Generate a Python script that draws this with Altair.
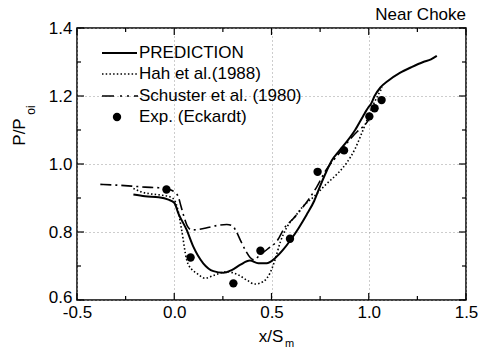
import altair as alt
import pandas as pd

# ---------------- data ----------------
pred_x = [-0.21, -0.15, -0.08, -0.03, 0.0, 0.021, 0.064, 0.098, 0.149, 0.201, 0.252, 0.295,
          0.338, 0.389, 0.432, 0.475, 0.518, 0.56, 0.60, 0.64, 0.68, 0.72, 0.75, 0.78, 0.81,
          0.85, 0.89, 0.93, 0.97, 1.00, 1.01, 1.03, 1.06, 1.10, 1.16, 1.22, 1.28, 1.32, 1.35]
pred_y = [0.910, 0.905, 0.902, 0.895, 0.886, 0.855, 0.806, 0.757, 0.708, 0.685, 0.680, 0.688,
          0.703, 0.716, 0.708, 0.708, 0.723, 0.748, 0.778, 0.812, 0.850, 0.892, 0.935, 0.975, 1.010,
          1.040, 1.068, 1.100, 1.140, 1.168, 1.175, 1.200, 1.225, 1.245, 1.268, 1.285, 1.300, 1.308, 1.318]

hah_x = [-0.21, -0.17, -0.12, -0.06, -0.02, 0.0, 0.02, 0.038, 0.064, 0.09, 0.115, 0.158, 0.21,
         0.27, 0.329, 0.372, 0.415, 0.458, 0.492, 0.518, 0.545, 0.58, 0.62, 0.66, 0.72, 0.78,
         0.84, 0.886, 0.93, 0.96, 0.99, 1.02, 1.05, 1.07]
hah_y = [0.928, 0.918, 0.912, 0.908, 0.903, 0.895, 0.862, 0.806, 0.718, 0.690, 0.679, 0.664, 0.674,
         0.683, 0.674, 0.659, 0.647, 0.654, 0.679, 0.718, 0.770, 0.815, 0.845, 0.874, 0.905, 0.940,
         0.972, 1.003, 1.045, 1.085, 1.128, 1.170, 1.205, 1.225]

sch_x = [-0.38, -0.30, -0.22, -0.15, -0.08, -0.03, 0.0, 0.02, 0.035, 0.05, 0.07, 0.09, 0.13, 0.18,
         0.23, 0.27, 0.30, 0.32, 0.345, 0.37, 0.39, 0.41, 0.44, 0.48, 0.53, 0.57, 0.61, 0.65, 0.69,
         0.73, 0.78, 0.82, 0.86, 0.90, 0.94, 0.98, 1.0]
sch_y = [0.940, 0.938, 0.935, 0.932, 0.930, 0.926, 0.918, 0.905, 0.875, 0.845, 0.815, 0.806, 0.808,
         0.814, 0.820, 0.822, 0.818, 0.800, 0.770, 0.742, 0.725, 0.718, 0.732, 0.750, 0.775, 0.815,
         0.838, 0.865, 0.895, 0.930, 0.982, 1.012, 1.040, 1.070, 1.095, 1.115, 1.130]

exp_x = [-0.04, 0.084, 0.304, 0.443, 0.595, 0.737, 0.873, 1.003, 1.030, 1.066]
exp_y = [0.925, 0.725, 0.649, 0.745, 0.780, 0.977, 1.040, 1.140, 1.164, 1.188]

legend_labels = ["PREDICTION", "Hah et al.(1988)", "Schuster et al. (1980)", "Exp. (Eckardt)"]
title_text = ["Near Choke"]
x_title = ["x/S"]
x_title_sub = ["m"]
y_title = ["P/P"]
y_title_sub = ["oi"]

x_major = [-0.5, 0.0, 0.5, 1.0, 1.5]
x_minor = [-0.25, 0.25, 0.75, 1.25]
y_major = [0.6, 0.8, 1.0, 1.2, 1.4]
y_minor = [0.7, 0.9, 1.1, 1.3]

# ---------------- layout ----------------
W, H = 389, 272
FONT = "Liberation Sans"
FS = 17

xscale = alt.Scale(domain=[-0.5, 1.5], nice=False, zero=False)
yscale = alt.Scale(domain=[0.6, 1.4], nice=False, zero=False)

label_expr = "datum.value < 0 ? '-' + format(-datum.value, '.1f') : format(datum.value, '.1f')"

xaxis = alt.Axis(values=x_major, labelExpr=label_expr, title=None, grid=True,
                 gridDash=[1, 3], gridColor="#9a9a9a", gridWidth=1, ticks=False, domain=False,
                 labelFontSize=FS, labelFont=FONT, labelColor="black", labelPadding=4,
                 labelFlush=False)
yaxis = alt.Axis(values=y_major, labelExpr=label_expr, title=None, grid=True,
                 gridDash=[1, 3], gridColor="#9a9a9a", gridWidth=1, ticks=False, domain=False,
                 labelFontSize=FS, labelFont=FONT, labelColor="black", labelPadding=5,
                 labelFlush=False,
                 labelOffset={"condition": {"test": "datum.value < 0.65", "value": -3}, "value": 0})


def X(field):
    return alt.X(field, scale=xscale, axis=xaxis)


def Y(field):
    return alt.Y(field, scale=yscale, axis=yaxis)


df_pred = pd.DataFrame({"x": pred_x, "y": pred_y})
df_hah = pd.DataFrame({"x": hah_x, "y": hah_y})
df_sch = pd.DataFrame({"x": sch_x, "y": sch_y})
df_exp = pd.DataFrame({"x": exp_x, "y": exp_y})

pred = alt.Chart(df_pred).mark_line(color="black", strokeWidth=2, interpolate="monotone").encode(
    x=X("x:Q"), y=Y("y:Q"))
hah = alt.Chart(df_hah).mark_line(color="black", strokeWidth=1.6, strokeDash=[1.5, 2.2],
                                  interpolate="monotone").encode(x=X("x:Q"), y=Y("y:Q"))
sch = alt.Chart(df_sch).mark_line(color="black", strokeWidth=1.6, strokeDash=[11, 4, 2, 4],
                                  interpolate="monotone").encode(x=X("x:Q"), y=Y("y:Q"))
pts = alt.Chart(df_exp).mark_point(filled=True, color="black", size=70, opacity=1).encode(
    x=X("x:Q"), y=Y("y:Q"))


def xticks(vals, length, top):
    return alt.Chart(pd.DataFrame({"v": vals})).mark_rule(color="black", strokeWidth=1.2).encode(
        x=X("v:Q"),
        y=alt.value(0 if top else H),
        y2=alt.value(length if top else H - length),
    )


def yticks(vals, length, right):
    return alt.Chart(pd.DataFrame({"v": vals})).mark_rule(color="black", strokeWidth=1.2).encode(
        y=Y("v:Q"),
        x=alt.value(W if right else 0),
        x2=alt.value(W - length if right else length),
    )


ticks = [
    xticks(x_major, 7, False), xticks(x_minor, 4, False),
    xticks(x_major, 7, True), xticks(x_minor, 4, True),
    yticks(y_major, 7, False), yticks(y_minor, 4, False),
    yticks(y_major, 7, True), yticks(y_minor, 4, True),
]

# legend
df_leg = pd.DataFrame({"label": legend_labels, "row": list(range(len(legend_labels)))})
leg_text = alt.Chart(df_leg).mark_text(align="left", baseline="middle", font=FONT, fontSize=FS,
                                       color="black").transform_calculate(
    ypix="25 + datum.row * 21.3"
).encode(
    x=alt.value(62),
    y=alt.Y("ypix:Q", scale=None),
    text="label:N",
)
leg_row = pd.DataFrame({"k": [0]})
leg_pred = alt.Chart(leg_row).mark_rule(color="black", strokeWidth=2).encode(
    x=alt.value(25), x2=alt.value(60), y=alt.value(25))
leg_hah = alt.Chart(leg_row).mark_rule(color="black", strokeWidth=1.6, strokeDash=[1.5, 2.2]).encode(
    x=alt.value(25), x2=alt.value(60), y=alt.value(46))
leg_sch = alt.Chart(leg_row).mark_rule(color="black", strokeWidth=1.6, strokeDash=[12, 6, 2, 5, 2, 5]).encode(
    x=alt.value(25), x2=alt.value(61), y=alt.value(68))
leg_pt = alt.Chart(leg_row).mark_point(filled=True, color="black", size=70, opacity=1).encode(
    x=alt.value(40), y=alt.value(89))

# titles
title = alt.Chart(pd.DataFrame({"t": title_text})).mark_text(
    align="right", baseline="alphabetic", font=FONT, fontSize=FS, color="black").encode(
    x=alt.value(W), y=alt.value(-8), text="t:N")
xt = alt.Chart(pd.DataFrame({"t": x_title})).mark_text(
    align="center", baseline="alphabetic", font=FONT, fontSize=FS, color="black").encode(
    x=alt.value(194), y=alt.value(314), text="t:N")
xts = alt.Chart(pd.DataFrame({"t": x_title_sub})).mark_text(
    align="left", baseline="alphabetic", font=FONT, fontSize=11, color="black").encode(
    x=alt.value(208), y=alt.value(319), text="t:N")
yt = alt.Chart(pd.DataFrame({"t": y_title})).mark_text(
    align="center", baseline="middle", font=FONT, fontSize=FS, color="black", angle=270).encode(
    x=alt.value(-57), y=alt.value(104), text="t:N")
yts = alt.Chart(pd.DataFrame({"t": y_title_sub})).mark_text(
    align="center", baseline="middle", font=FONT, fontSize=12, color="black", angle=270).encode(
    x=alt.value(-46), y=alt.value(82), text="t:N")

chart = alt.layer(
    pred, hah, sch, pts, *ticks,
    leg_text, leg_pred, leg_hah, leg_sch, leg_pt,
    title, xt, xts, yt, yts,
).properties(
    width=W, height=H,
    padding={"left": 77, "top": 28, "right": 18, "bottom": 50},
    autosize=alt.AutoSizeParams(type="none"),
    background="white",
).configure_view(stroke="black", strokeWidth=1.5)

chart.save("out.html", embed_options={"renderer": "svg", "actions": False})
